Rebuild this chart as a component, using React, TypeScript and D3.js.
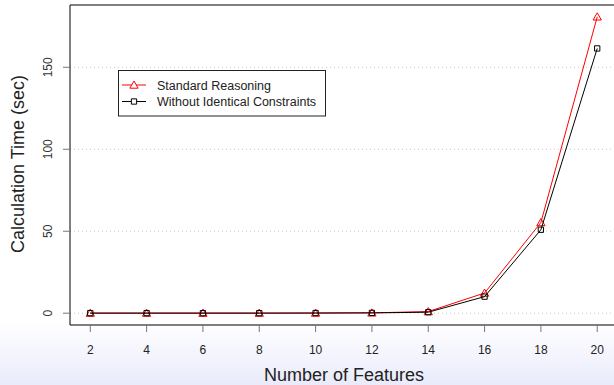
import { useEffect, useRef } from 'react'
import * as d3 from 'd3'

const features = [2, 4, 6, 8, 10, 12, 14, 16, 18, 20]
const standardReasoning = [0.05, 0.05, 0.05, 0.05, 0.1, 0.2, 1.0, 12.3, 55.3, 180.8]
const withoutIdentical = [0.05, 0.05, 0.05, 0.05, 0.1, 0.2, 0.6, 10.1, 50.9, 161.5]
const yTicks = [0, 50, 100, 150]
const seriesNames = ['Standard Reasoning', 'Without Identical Constraints']
const seriesColors = ['#ff0000', '#000000']

const W = 614
const H = 385

export default function App() {
  const ref = useRef<SVGSVGElement>(null)

  useEffect(() => {
    const svg = d3.select(ref.current)
    svg.selectAll('*').remove()

    const left = 70
    const top = 5
    const right = 617.5
    const bottom = 325
    const font = 'Liberation Sans, Arial, sans-serif'

    // background fade at the bottom
    const defs = svg.append('defs')
    const grad = defs.append('linearGradient').attr('id', 'bg').attr('x1', 0).attr('x2', 0).attr('y1', 0).attr('y2', 1)
    grad.append('stop').attr('offset', '0%').attr('stop-color', '#ffffff')
    grad.append('stop').attr('offset', '100%').attr('stop-color', '#e9ebfb')
    svg.append('rect').attr('width', W).attr('height', H).attr('fill', '#fff')
    svg.append('rect').attr('x', 0).attr('y', 322).attr('width', W).attr('height', H - 322).attr('fill', 'url(#bg)')

    const x = d3.scaleLinear().domain([1.28, 20.72]).range([left, right])
    const y = d3.scaleLinear().domain([-7.2, 188]).range([bottom, top])

    // grid
    svg.append('g').selectAll('line').data(yTicks).enter().append('line')
      .attr('x1', left).attr('x2', right)
      .attr('y1', (d) => y(d)).attr('y2', (d) => y(d))
      .attr('stroke', '#c8c8c8').attr('stroke-dasharray', '1,3')

    // box (left, top, bottom)
    svg.append('path')
      .attr('d', `M${right},${top}H${left}V${bottom}H${right}`)
      .attr('fill', 'none').attr('stroke', '#000').attr('stroke-width', 1)

    // y ticks
    const yg = svg.append('g')
    yg.selectAll('line').data(yTicks).enter().append('line')
      .attr('x1', left - 7).attr('x2', left)
      .attr('y1', (d) => y(d)).attr('y2', (d) => y(d))
      .attr('stroke', '#777')
    yg.selectAll('text').data(yTicks).enter().append('text')
      .attr('transform', (d) => `translate(${52},${y(d)}) rotate(-90)`)
      .attr('text-anchor', 'middle')
      .attr('font-family', font).attr('font-size', 12).attr('fill', '#333')
      .text((d) => d)

    // x ticks
    const xg = svg.append('g')
    xg.selectAll('line').data(features).enter().append('line')
      .attr('x1', (d) => x(d)).attr('x2', (d) => x(d))
      .attr('y1', bottom).attr('y2', bottom + 7)
      .attr('stroke', '#777')
    xg.selectAll('text').data(features).enter().append('text')
      .attr('x', (d) => x(d)).attr('y', 353.5)
      .attr('text-anchor', 'middle')
      .attr('font-family', font).attr('font-size', 12).attr('fill', '#222')
      .text((d) => d)

    // axis titles
    svg.append('text').attr('x', 344).attr('y', 381)
      .attr('text-anchor', 'middle').attr('font-family', font).attr('font-size', 18).attr('fill', '#222')
      .text('Number of Features')
    svg.append('text').attr('transform', `translate(24,164) rotate(-90)`)
      .attr('text-anchor', 'middle').attr('font-family', font).attr('font-size', 18).attr('fill', '#222')
      .text('Calculation Time (sec)')

    const line = d3.line<number>().x((_, i) => x(features[i])).y((d) => y(d))
    const tri = d3.symbol().type(d3.symbolTriangle).size(30)
    const sq = d3.symbol().type(d3.symbolSquare).size(28)

    const drawSeries = (vals: number[], color: string, shape: 'tri' | 'sq') => {
      svg.append('path').datum(vals).attr('d', line)
        .attr('fill', 'none').attr('stroke', color).attr('stroke-width', 1)
      svg.append('g').selectAll('path').data(vals).enter().append('path')
        .attr('transform', (d, i) => `translate(${x(features[i])},${y(d) + (shape === 'tri' ? 0.8 : 0)})`)
        .attr('d', shape === 'tri' ? tri() : sq())
        .attr('fill', 'none').attr('stroke', color).attr('stroke-width', 1)
    }
    drawSeries(standardReasoning, seriesColors[0], 'tri')
    drawSeries(withoutIdentical, seriesColors[1], 'sq')

    // legend
    const lg = svg.append('g')
    lg.append('rect').attr('x', 118.5).attr('y', 70.5).attr('width', 207).attr('height', 45.5)
      .attr('fill', '#fff').attr('stroke', '#222')
    seriesNames.forEach((name, i) => {
      const ly = 85 + i * 16.5
      lg.append('line').attr('x1', 122).attr('x2', 146).attr('y1', ly).attr('y2', ly)
        .attr('stroke', seriesColors[i])
      lg.append('path').attr('transform', `translate(134,${ly + (i === 0 ? 0.8 : 0)})`)
        .attr('d', i === 0 ? tri() : sq())
        .attr('fill', '#fff').attr('stroke', seriesColors[i])
      lg.append('text').attr('x', 157).attr('y', ly + 4.5)
        .attr('font-family', font).attr('font-size', 12.5).attr('fill', '#222')
        .text(name)
    })
  }, [])

  return (
    <svg ref={ref} width={W} height={H} style={{ position: 'absolute', left: 0, top: 0 }} />
  )
}
